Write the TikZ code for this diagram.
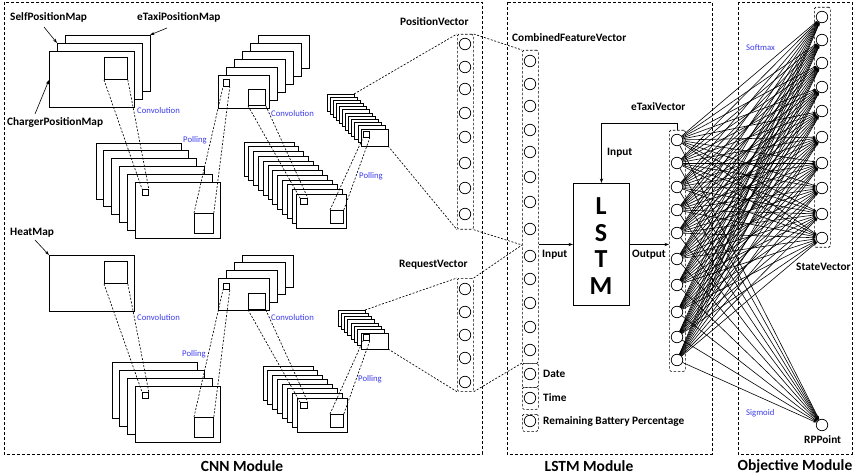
\documentclass[tikz,border=0pt]{standalone}
\usepackage{fontspec}
\setmainfont{Carlito}
\usetikzlibrary{arrows.meta,calc}

\definecolor{oplabel}{RGB}{60,60,235}

% stack of feature maps: back corner (x,y), step (dx,dy), count, width, height
\newcommand\fmapstack[7]{%
  \foreach \k in {1,...,#5}{%
    \draw[fmap] ({#1+(\k-1)*#3},{#2+(\k-1)*#4}) rectangle ++(#6,#7);
  }%
}

\begin{document}
\begin{tikzpicture}[x=1pt,y=-1pt,
  fmap/.style={draw=black,fill=white,line width=0.8pt},
  win/.style={draw=black,line width=0.8pt,inner sep=0pt,anchor=north west},
  guide/.style={dash pattern=on 2pt off 1.6pt,line width=0.65pt},
  modbox/.style={dash pattern=on 3pt off 2pt,line width=0.7pt},
  vecbox/.style={draw,dash pattern=on 2.5pt off 1.8pt,line width=0.7pt,rounded corners=1.5pt,
                 inner sep=0pt,anchor=north west,minimum width=16pt},
  unit/.style={circle,draw,fill=white,line width=0.7pt,minimum size=11.5pt,inner sep=0pt},
  lbl/.style={font=\fontsize{11.3}{12}\selectfont\bfseries,inner sep=0pt,anchor=west},
  oplbl/.style={font=\fontsize{8.7}{10}\selectfont,text=oplabel,inner sep=0pt,anchor=west},
  modlbl/.style={font=\fontsize{15.5}{18}\selectfont\bfseries,inner sep=0pt},
  ptr/.style={-{Stealth[length=4.5pt,width=3pt]},line width=0.6pt},
  flow/.style={-{Stealth[length=4.5pt,width=3.2pt]},line width=0.8pt},
  link/.style={-{Stealth[length=3.5pt,width=2.4pt]},line width=0.6pt},
]
\useasboundingbox (0,0) rectangle (855,476);

% ---------------- module frames ----------------
\draw[modbox] (4,2) rectangle (482,454);
\draw[modbox] (507,2) rectangle (712,454);
\draw[modbox] (738,2) rectangle (852,454);
\node[modlbl] (cnnm) at (242,466) {CNN Module};
\node[modlbl] (lstmm) at (589,466) {LSTM Module};
\node[modlbl] (objm) at (795,466) {Objective Module};

% ---------------- CNN: upper branch ----------------
\fmapstack{65}{35}{-8}{8}{3}{85}{56}
\node[win,minimum width=23pt,minimum height=22pt] (inA) at (104,57) {};
\coordinate (inAmid) at (57,43);
\coordinate (inAback) at (150,35);
\coordinate (inAfront) at (49,80);

\node[lbl] (selfl) at (10,17) {SelfPositionMap};
\node[lbl] (etaxil) at (137,17) {eTaxiPositionMap};
\node[lbl] (chargl) at (7,122) {ChargerPositionMap};
\coordinate (selftail) at (44,27);
\coordinate (etaxitail) at (167,28);
\coordinate (chargtail) at (35,114);
\draw[ptr] (selftail) -- (inAmid);
\draw[ptr] (etaxitail) -- (inAback);
\draw[ptr] (chargtail) -- (inAfront);

\fmapstack{96}{143}{7.8}{7.8}{6}{85}{56}
\node[win,minimum size=6pt] (cvAs) at (142,189) {};
\node[win,minimum width=19pt,minimum height=20pt] (cvAb) at (194,213) {};

\fmapstack{258}{35}{-8}{8}{6}{51}{33}
\node[win,minimum width=6pt,minimum height=7pt] (plAs) at (223,79) {};
\node[win,minimum width=17pt,minimum height=16pt] (plAb) at (248,89) {};

\fmapstack{244}{142}{4.8}{4.75}{12}{50}{34}
\node[win,minimum width=7pt,minimum height=6pt] (cvBs) at (300,198) {};
\node[win,minimum size=13pt] (cvBb) at (330,210) {};

\fmapstack{327}{94}{3.09}{3.18}{12}{27}{17}
\node[win,minimum size=6pt] (plBs) at (363,131) {};
\coordinate (plBtop) at (354,94);
\coordinate (plBbot) at (388,146);

\draw[guide] (inA.south west) -- (cvAs.north west);
\draw[guide] (inA.south east) -- (cvAs.north east);
\draw[guide] (cvAb.north west) -- (plAs.south west);
\draw[guide] (cvAb.north east) -- (plAs.south east);
\draw[guide] (plAb.south west) -- (cvBs.north west);
\draw[guide] (plAb.south east) -- (cvBs.north east);
\draw[guide] (cvBb.north west) -- (plBs.south west);
\draw[guide] (cvBb.north east) -- (plBs.south east);

\node[oplbl] (convA) at (137,111) {Convolution};
\node[oplbl] (poolA) at (183,140) {Polling};
\node[oplbl] (convB) at (271,114) {Convolution};
\node[oplbl] (poolB) at (359,176) {Polling};

% ---------------- CNN: lower branch ----------------
\draw[fmap] (49,255) rectangle ++(85,56);
\coordinate (heatnw) at (49,255);
\node[win,minimum width=23pt,minimum height=22pt] (inC) at (104,261) {};
\node[lbl] (heatl) at (10,233) {HeatMap};
\coordinate (heattail) at (35,240);
\draw[ptr] (heattail) -- (heatnw);

\fmapstack{112}{362}{7.667}{8}{4}{85}{56}
\node[win,minimum size=6pt] (cvCs) at (142,392) {};
\node[win,minimum width=19pt,minimum height=20pt] (cvCb) at (194,417) {};

\fmapstack{242}{255}{-8}{7.667}{4}{51}{32}
\node[win,minimum size=6pt] (plCs) at (223,283) {};
\node[win,minimum width=17pt,minimum height=16pt] (plCb) at (248,293) {};

\fmapstack{263}{366}{4.857}{4.571}{8}{50}{34}
\node[win,minimum width=7pt,minimum height=6pt] (cvDs) at (300,402) {};
\node[win,minimum size=13pt] (cvDb) at (330,414) {};

\fmapstack{338}{310}{3.286}{3.286}{8}{27}{16}
\node[win,minimum size=6pt] (plDs) at (363,334) {};
\coordinate (plDtop) at (365,310);
\coordinate (plDbot) at (388,349);

\draw[guide] (inC.south west) -- (cvCs.north west);
\draw[guide] (inC.south east) -- (cvCs.north east);
\draw[guide] (cvCb.north west) -- (plCs.south west);
\draw[guide] (cvCb.north east) -- (plCs.south east);
\draw[guide] (plCb.south west) -- (cvDs.north west);
\draw[guide] (plCb.south east) -- (cvDs.north east);
\draw[guide] (cvDb.north west) -- (plDs.south west);
\draw[guide] (cvDb.north east) -- (plDs.south east);

\node[oplbl] (convC) at (137,318) {Convolution};
\node[oplbl] (poolC) at (182,354) {Polling};
\node[oplbl] (convD) at (271,318) {Convolution};
\node[oplbl] (poolD) at (358,379) {Polling};

% ---------------- flattened vectors ----------------
\node[vecbox,minimum height=195pt] (pvbox) at (457,34) {};
\foreach \y [count=\i] in {44,67,89,113,137,163,188,214}
  \node[unit] (pv\i) at (465,\y) {};
\node[lbl] (pvl) at (400,22) {PositionVector};

\node[vecbox,minimum height=113pt] (rvbox) at (457,278) {};
\foreach \y [count=\i] in {289,312,335,358,382}
  \node[unit] (rv\i) at (465,\y) {};
\node[lbl] (rvl) at (399,265) {RequestVector};

\draw[guide] (plBtop) -- (pvbox.north west);
\draw[guide] (plBbot) -- (pvbox.south west);
\draw[guide] (plDtop) -- (rvbox.north west);
\draw[guide] (plDbot) -- (rvbox.south west);

% ---------------- LSTM module ----------------
\node[vecbox,minimum height=313pt] (cfbox) at (522,50) {};
\node[vecbox,minimum height=24pt] (datebox) at (522,363) {};
\node[vecbox,minimum height=22pt] (timebox) at (522,387) {};
\node[vecbox,minimum height=17pt] (rembox) at (522,414) {};
\foreach \y [count=\i] in {61,84,106,130,152,177,202,229,256,279,303,327,350,374,398,421}
  \node[unit] (cf\i) at (530,\y) {};
\node[lbl] (cfl) at (512,38) {CombinedFeatureVector};
\node[lbl] (datel) at (543,374) {Date};
\node[lbl] (timel) at (543,398) {Time};
\node[lbl] (reml) at (543,421) {Remaining Battery Percentage};
\coordinate (cfsplit) at (522,245);

\draw[guide] (pvbox.north east) -- (cfbox.north west);
\draw[guide] (pvbox.south east) -- (cfsplit);
\draw[guide] (rvbox.north east) -- (cfsplit);
\draw[guide] (rvbox.south east) -- (datebox.north west);

\node[draw,line width=0.9pt,minimum width=56pt,minimum height=122pt,inner sep=0pt,anchor=north west] (lstm) at (573,183) {};
\foreach \c/\y in {L/206,S/233,T/259,M/286}
  \node[font=\fontsize{26}{28}\selectfont\bfseries,inner sep=0pt] (lstm\c) at (601,\y) {\c};

% ---------------- eTaxi vector and objective ----------------
\node[vecbox,minimum height=241pt] (etbox) at (669,130) {};
\foreach \y [count=\i] in {140,163,187,210,233,259,285,312,337,360}
  \node[unit] (e\i) at (677,\y) {};
\node[lbl] (etl) at (631,107) {eTaxiVector};

\draw[flow] (cfbox.east |- lstm.west) -- (lstm.west);
\draw[flow] (lstm.east) -- (etbox.west |- lstm.east);
\draw[flow] (etbox.north) |- ($(lstm.north)+(0,-60)$) -- (lstm.north);
\node[lbl] (inl) at (542,255) {Input};
\node[lbl] (outl) at (632,255) {Output};
\node[lbl] (fbl) at (607,153) {Input};

\node[vecbox,minimum height=240pt] (svbox) at (814,7) {};
\foreach \y [count=\i] in {17,40,63,87,111,137,163,188,214,238}
  \node[unit] (s\i) at (822,\y) {};
\node[unit] (rp) at (822,425) {};
\node[lbl] (svl) at (796,267) {StateVector};
\node[lbl] (rpl) at (804,440) {RPPoint};
\node[oplbl] (softl) at (746,48) {Softmax};
\node[oplbl] (sigl) at (746,413) {Sigmoid};

\foreach \i in {1,...,10}{
  \foreach \j in {1,...,10}
    \draw[link] (e\i) -- (s\j);
  \draw[link] (e\i) -- (rp);
}
\end{tikzpicture}
\end{document}
